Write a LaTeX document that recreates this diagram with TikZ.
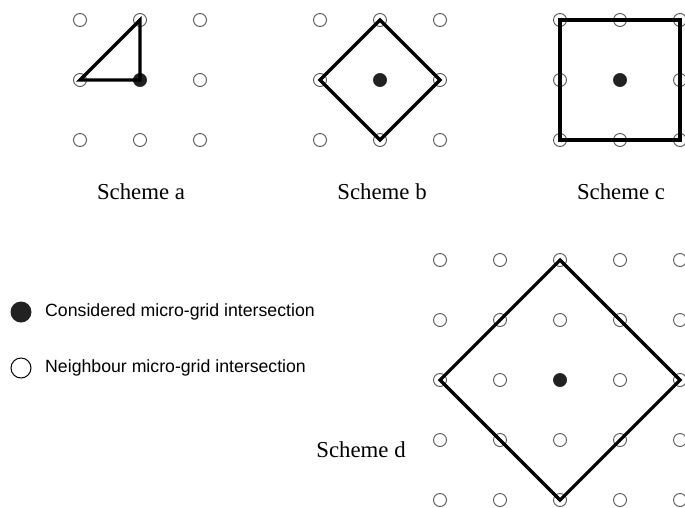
\documentclass[tikz,border=0pt]{standalone}
\usepackage{fontspec}
\setmainfont{Liberation Serif}
\setsansfont{Liberation Sans}
\usetikzlibrary{positioning}
\definecolor{gridgray}{RGB}{85, 85, 85}
\definecolor{dotblack}{RGB}{34, 34, 34}
\tikzset{
  nbr/.style={circle, draw=gridgray, line width=0.9pt, minimum size=13pt, inner sep=0pt},
  ctr/.style={circle, fill=dotblack, minimum size=13.5pt, inner sep=0pt},
  schemeline/.style={line width=3.2pt, line join=miter, black},
  schemelabel/.style={font=\fontsize{22.8}{27}\selectfont},
  legendtext/.style={font=\sffamily\fontsize{17.7}{21}\selectfont, anchor=west, inner sep=0pt}
}

\begin{document}
\begin{tikzpicture}[x=1pt, y=-1pt]
    \useasboundingbox (0,0) rectangle (685,507);
    % Scheme a, b, c : 3x3 grids
    \foreach \s/\ox in {a/80, b/320, c/560} {
      \foreach \i in {1,2,3} {
        \foreach \j in {1,2,3} {
          \node[nbr] (\s-\i-\j) at ({\ox+60*(\i-1)}, {20+60*(\j-1)}) {};
        }
      }
    }
    \node[ctr] (a-c) at (a-2-2) {};
    \node[ctr] (b-c) at (b-2-2) {};
    \node[ctr] (c-c) at (c-2-2) {};
    % Scheme a : triangle
    \draw[schemeline] (a-2-1.center) -- (a-1-2.center) -- (a-c.center) -- cycle;
    % Scheme b : diamond
    \draw[schemeline] (b-2-1.center) -- (b-3-2.center) -- (b-2-3.center) -- (b-1-2.center) -- cycle;
    % Scheme c : square
    \draw[schemeline, line width=4.2pt] (c-1-1.center) -- (c-3-1.center) -- (c-3-3.center) -- (c-1-3.center) -- cycle;
    % Labels
    \node[schemelabel] (la) at (141,192) {Scheme a};
    \node[schemelabel] (lb) at (382,192) {Scheme b};
    \node[schemelabel] (lc) at (621,192) {Scheme c};
    % Scheme d : 5x5 grid
    \foreach \i in {1,...,5} {
      \foreach \j in {1,...,5} {
        \node[nbr] (d-\i-\j) at ({440+60*(\i-1)}, {260+60*(\j-1)}) {};
      }
    }
    \node[ctr] (d-c) at (d-3-3) {};
    \draw[schemeline] (d-3-1.center) -- (d-5-3.center) -- (d-3-5.center) -- (d-1-3.center) -- cycle;
    \node[schemelabel] (ld) at (361,450) {Scheme d};
    % Legend
    \node[circle, fill=dotblack, minimum size=21pt, inner sep=0pt] (keyfull) at (21,312) {};
    \node[circle, draw=black, line width=1pt, minimum size=20pt, inner sep=0pt] (keyopen) at (21,368) {};
    \node[legendtext] (keyfulltext) at (45,312) {Considered micro-grid intersection};
    \node[legendtext] (keyopentext) at (45,368) {Neighbour micro-grid intersection};
\end{tikzpicture}
\end{document}
